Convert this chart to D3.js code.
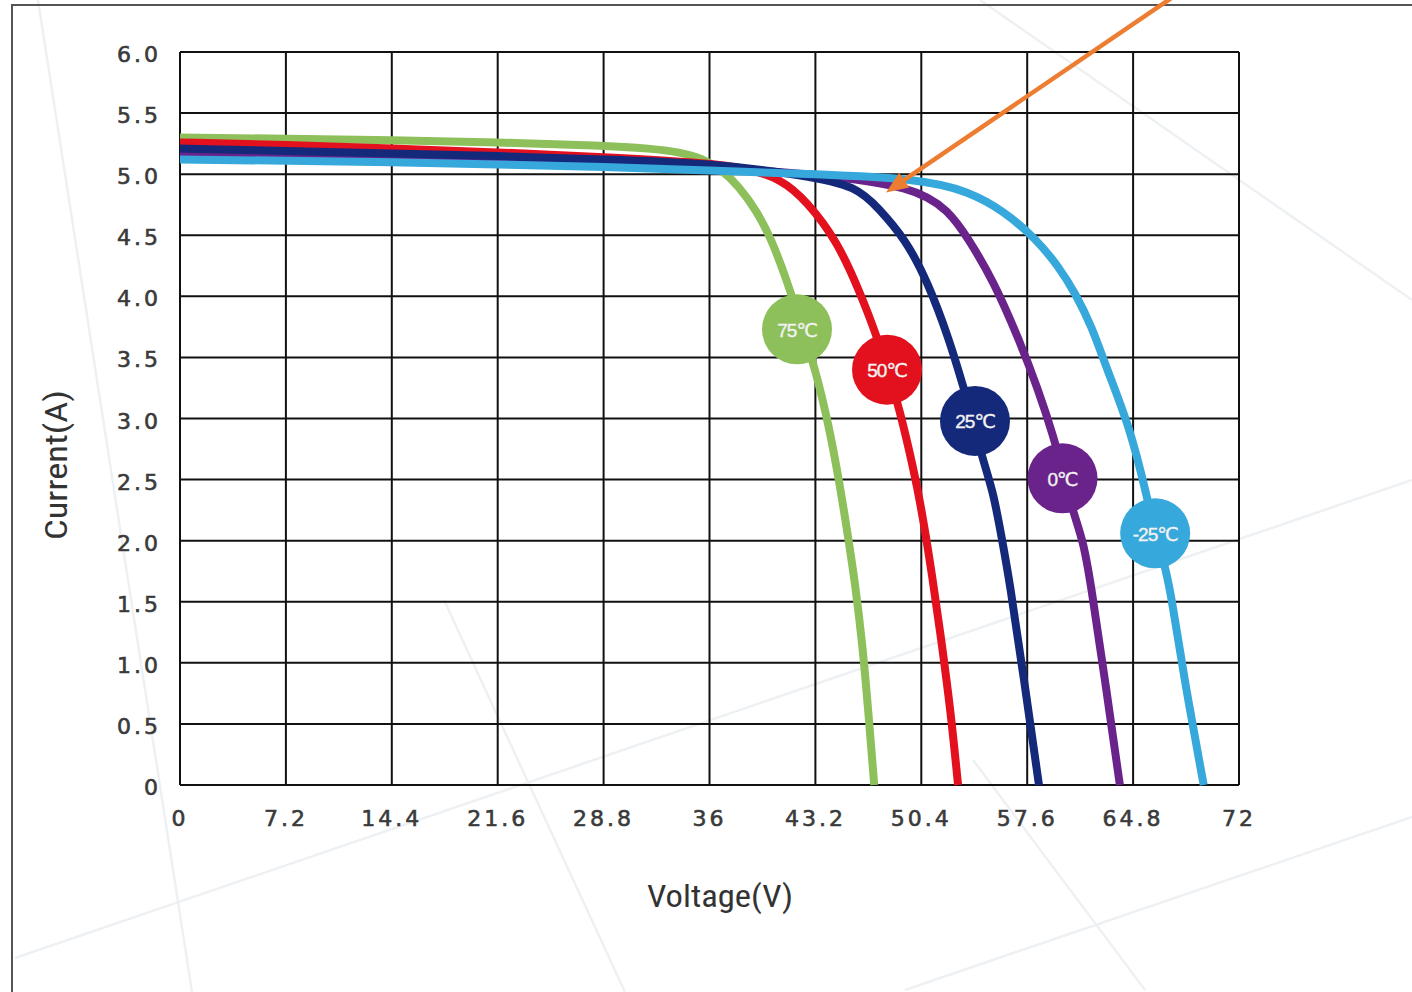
<!DOCTYPE html>
<html><head><meta charset="utf-8">
<script src="https://cdn.jsdelivr.net/npm/d3@7/dist/d3.min.js"></script>
<style>html,body{margin:0;padding:0;background:#fff;} svg{display:block}</style>
</head><body>
<svg id="chart" width="1412" height="992"></svg>
<script>
// ---------- data ----------
const xTicks = [0, 7.2, 14.4, 21.6, 28.8, 36, 43.2, 50.4, 57.6, 64.8, 72];
const xTickLabels = ["0", "7.2", "14.4", "21.6", "28.8", "36", "43.2", "50.4", "57.6", "64.8", "72"];
const yTicks = [0, 0.5, 1, 1.5, 2, 2.5, 3, 3.5, 4, 4.5, 5, 5.5, 6];
const yTickLabels = ["0", "0.5", "1.0", "1.5", "2.0", "2.5", "3.0", "3.5", "4.0", "4.5", "5.0", "5.5", "6.0"];
const xTitle = "Voltage(V)";
const yTitle = "Current(A)";

const seriesNames = ["75℃", "50℃", "25℃", "0℃", "-25℃"];
const seriesColors = ["#8dc05a", "#e3101d", "#15297b", "#6a238b", "#37a8db"];

// I-V curves: [voltage (V), current (A)]
const curve75 = [[0,5.30],[7.2,5.29],[14.4,5.28],[21.6,5.26],[28.8,5.235],[32,5.21],[34,5.18],[35.5,5.13],[36.8,5.04],[38,4.90],[39.2,4.70],[40.2,4.47],[41.2,4.15],[42.2,3.78],[43.2,3.40],[44.1,2.95],[44.8,2.50],[45.4,2.05],[45.9,1.65],[46.4,1.15],[46.8,0.6],[47.2,0]];
const curve50 = [[0,5.26],[7.2,5.24],[14.4,5.21],[21.6,5.18],[28.8,5.14],[36,5.09],[38.5,5.05],[40.9,4.96],[42.6,4.78],[44.7,4.45],[46.2,4.04],[47.3,3.70],[48.2,3.36],[48.9,3.08],[49.5,2.78],[50.3,2.35],[51.2,1.67],[51.8,1.15],[52.4,0.6],[52.9,0]];
const curve25 = [[0,5.21],[7.2,5.19],[14.4,5.17],[21.6,5.15],[28.8,5.12],[36,5.09],[42.6,4.99],[46,4.90],[47.5,4.72],[49.3,4.47],[50.8,4.13],[52.35,3.63],[53.2,3.28],[54.0,2.96],[54.5,2.69],[55.3,2.40],[55.9,2.0],[56.4,1.67],[57.4,0.85],[58.4,0]];
const curve0 = [[0,5.18],[7.2,5.16],[14.4,5.14],[21.6,5.12],[28.8,5.09],[36,5.06],[43.2,5.00],[49.9,4.90],[52.3,4.70],[53.6,4.47],[55.3,4.13],[57.1,3.63],[58.3,3.25],[59.35,2.87],[60.3,2.45],[60.7,2.24],[61.4,2.0],[61.9,1.67],[62.9,0.85],[63.9,0]];
const curveM25 = [[0,5.12],[7.2,5.11],[14.4,5.10],[21.6,5.08],[28.8,5.06],[36,5.03],[43.2,5.00],[50.4,4.96],[53.6,4.86],[56.0,4.70],[58.2,4.47],[59.7,4.25],[60.9,4.02],[62.0,3.75],[63.0,3.41],[64.6,2.92],[65.7,2.38],[66.3,2.06],[67.0,1.78],[67.45,1.51],[68.3,0.85],[69.6,0]];

// label badge positions [V, I]
const labelV = [41.95, 48.07, 54.05, 60.0, 66.3];
const labelI = [3.73, 3.40, 2.98, 2.51, 2.06];

// annotation arrow (data coords)
const arrowFrom = [67.5, 6.45];
const arrowTo = [48.0, 4.85];

// ---------- drawing ----------
(function () {
const curves = [curve75, curve50, curve25, curve0, curveM25];
const drawOrder = [0, 1, 3, 2, 4];

const svg = d3.select("#chart");
const W = 1412, H = 992;
const mLeft = 180, mRight = 1239, mTop = 52, mBottom = 785;

svg.append("rect").attr("width", W).attr("height", H).attr("fill", "#fff");

// faint decorative background lines
const deco = [[[15,958],[1412,480]],[[38,0],[192,992]],[[444,600],[625,992]],[[973,760],[1145,990]],[[1412,817],[905,990]],[[980,0],[1412,300]]];
svg.append("g").selectAll("line").data(deco).join("line")
  .attr("x1", d => d[0][0]).attr("y1", d => d[0][1])
  .attr("x2", d => d[1][0]).attr("y2", d => d[1][1])
  .attr("stroke", "#eef1f4").attr("stroke-width", 2.5);

// frame
svg.append("rect").attr("x", 12).attr("y", 5).attr("width", W + 20).attr("height", H + 20)
  .attr("fill", "none").attr("stroke", "#555").attr("stroke-width", 2);

const x = d3.scaleLinear().domain([0, 72]).range([mLeft, mRight]);
const y = d3.scaleLinear().domain([0, 6]).range([mBottom, mTop]);

// grid
const grid = svg.append("g");
grid.selectAll("line.v").data(xTicks).join("line").attr("class", "v")
  .attr("x1", d => x(d)).attr("x2", d => x(d)).attr("y1", y(6)).attr("y2", y(0))
  .attr("stroke", "#111").attr("stroke-width", 2);
grid.selectAll("line.h").data(yTicks).join("line").attr("class", "h")
  .attr("y1", d => y(d)).attr("y2", d => y(d)).attr("x1", x(0)).attr("x2", x(72))
  .attr("stroke", "#111").attr("stroke-width", 2);

// tick labels
const tickFont = "'DejaVu Sans', Verdana, sans-serif";
svg.append("g").selectAll("text").data(yTicks).join("text")
  .attr("x", 161).attr("y", d => y(d) + 4)
  .attr("text-anchor", "end").attr("dominant-baseline", "middle")
  .attr("font-family", tickFont).attr("font-size", 22).attr("letter-spacing", 3)
  .attr("fill", "#3a3a3a").attr("stroke", "#3a3a3a").attr("stroke-width", 0.6)
  .text((d, i) => yTickLabels[i]);
svg.append("g").selectAll("text").data(xTicks).join("text")
  .attr("x", d => x(d)).attr("y", 826)
  .attr("text-anchor", "middle")
  .attr("font-family", tickFont).attr("font-size", 22).attr("letter-spacing", 3)
  .attr("fill", "#3a3a3a").attr("stroke", "#3a3a3a").attr("stroke-width", 0.6)
  .text((d, i) => xTickLabels[i]);

// axis titles
const titleFont = "'Liberation Sans Narrow', 'Arial Narrow', 'Roboto Condensed', 'Liberation Sans', sans-serif";
svg.append("text").attr("x", 720).attr("y", 907).attr("text-anchor", "middle")
  .attr("font-family", titleFont).attr("font-size", 31).attr("fill", "#333")
  .attr("textLength", 146).attr("lengthAdjust", "spacingAndGlyphs")
  .text(xTitle);
svg.append("text").attr("transform", "translate(67,465) rotate(-90)").attr("text-anchor", "middle")
  .attr("font-family", titleFont).attr("font-size", 31).attr("fill", "#333")
  .attr("textLength", 150).attr("lengthAdjust", "spacingAndGlyphs")
  .text(yTitle);

// curves
const line = d3.line().x(d => x(d[0])).y(d => y(d[1])).curve(d3.curveBasis);
svg.append("g").selectAll("path").data(drawOrder).join("path")
  .attr("d", i => line(curves[i]))
  .attr("fill", "none").attr("stroke", i => seriesColors[i])
  .attr("stroke-width", 8).attr("stroke-linecap", "butt").attr("stroke-linejoin", "round");

// label badges
const badges = svg.append("g").selectAll("g").data(seriesNames).join("g")
  .attr("transform", (d, i) => `translate(${x(labelV[i])},${y(labelI[i])})`);
badges.append("circle").attr("r", 35).attr("fill", (d, i) => seriesColors[i]);
badges.append("text").attr("text-anchor", "middle").attr("dominant-baseline", "central")
  .attr("y", 1)
  .attr("font-family", "'Liberation Sans', Arial, 'DejaVu Sans', sans-serif")
  .attr("font-size", 19).attr("letter-spacing", -1)
  .attr("fill", "#f2f2f2").attr("stroke", "#f2f2f2").attr("stroke-width", 0.4)
  .text(d => d);

// arrow annotation
const ax1 = x(arrowFrom[0]), ay1 = y(arrowFrom[1]);
const ax2 = x(arrowTo[0]), ay2 = y(arrowTo[1]);
const ang = Math.atan2(ay2 - ay1, ax2 - ax1);
const headLen = 22, headW = 9;
const bx = ax2 - headLen * Math.cos(ang), by = ay2 - headLen * Math.sin(ang);
svg.append("line").attr("x1", ax1).attr("y1", ay1).attr("x2", bx + 2 * Math.cos(ang)).attr("y2", by + 2 * Math.sin(ang))
  .attr("stroke", "#ed7d31").attr("stroke-width", 4.5);
const nx = -Math.sin(ang), ny = Math.cos(ang);
svg.append("path")
  .attr("d", `M${ax2},${ay2}L${bx + headW * nx},${by + headW * ny}L${bx - headW * nx},${by - headW * ny}Z`)
  .attr("fill", "#ed7d31");
})();
</script>
</body></html>
